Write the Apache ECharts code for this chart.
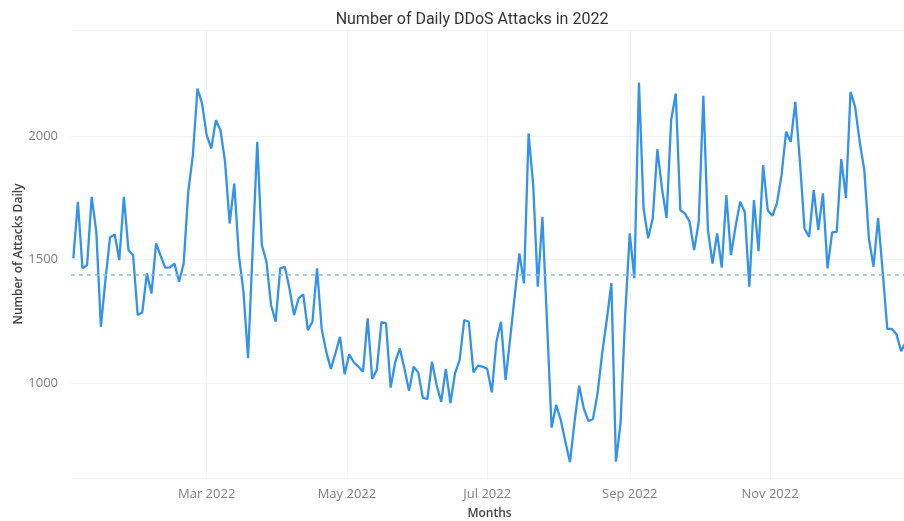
<!DOCTYPE html>
<html>
<head>
<meta charset="utf-8">
<title>Number of Daily DDoS Attacks in 2022</title>
<script src="https://cdn.jsdelivr.net/npm/echarts@6/dist/echarts.min.js"></script>
<style>
	html, body { margin: 0; padding: 0; background: #fff; }
	#ddos_chart { width: 904px; height: 521px; }
</style>
</head>
<body>
<div id="ddos_chart"></div>
<script>
// samples every second day, starting 2 Jan 2022
var firstSampleDate = '2022-01-02';
var sampleStepDays = 2;
var attackCounts = [
	1505, 1734, 1464, 1478, 1754, 1613, 1228, 1420, 1590, 1602,
	1498, 1754, 1538, 1518, 1275, 1286, 1444, 1363, 1565, 1515,
	1467, 1468, 1484, 1410, 1484, 1775, 1923, 2193, 2132, 2004,
	1950, 2065, 2024, 1896, 1646, 1808, 1518, 1370, 1100, 1540,
	1977, 1559, 1491, 1316, 1248, 1464, 1471, 1383, 1275, 1343,
	1359, 1214, 1248, 1464, 1221, 1127, 1057, 1120, 1187, 1035,
	1116, 1084, 1066, 1046, 1262, 1016, 1053, 1246, 1242, 981,
	1084, 1140, 1059, 968, 1066, 1043, 940, 935, 1086, 992,
	924, 1057, 918, 1039, 1093, 1255, 1248, 1043, 1070, 1066,
	1057, 962, 1167, 1248, 1012, 1181, 1356, 1525, 1404, 2011,
	1802, 1390, 1673, 1250, 819, 911, 850, 762, 679, 843,
	989, 897, 846, 854, 958, 1120, 1255, 1404, 681, 837,
	1275, 1606, 1424, 2217, 1707, 1586, 1667, 1947, 1788, 1669,
	2065, 2173, 1700, 1687, 1653, 1538, 1653, 2163, 1619, 1484,
	1606, 1467, 1761, 1518, 1633, 1734, 1693, 1390, 1741, 1534,
	1883, 1700, 1677, 1728, 1842, 2018, 1977, 2139, 1896, 1626,
	1592, 1781, 1619, 1768, 1464, 1610, 1612, 1907, 1750, 2179,
	2119, 1977, 1862, 1586, 1471, 1669, 1450, 1219, 1219, 1197,
	1129, 1165
];
var averageAttacks = 1437;

var monthTicks = ['2022-03-01', '2022-05-01', '2022-07-01', '2022-09-01', '2022-11-01'];
var monthLabels = ['Mar 2022', 'May 2022', 'Jul 2022', 'Sep 2022', 'Nov 2022'];

function fmt(d) {
	var m = d.getUTCMonth() + 1, day = d.getUTCDate();
	return d.getUTCFullYear() + '-' + (m < 10 ? '0' : '') + m + '-' + (day < 10 ? '0' : '') + day;
}

function set_ddos_chart() {
	var ddos_chart = echarts.init(document.getElementById('ddos_chart'));

	// every day of 2022 on the category axis
	var allDays = [];
	var d = new Date(Date.UTC(2022, 0, 1));
	while (d.getUTCFullYear() === 2022) {
		allDays.push(fmt(d));
		d = new Date(d.getTime() + 86400000);
	}

	var lineData = new Array(allDays.length);
	for (var i = 0; i < allDays.length; i++) lineData[i] = null;
	var start = allDays.indexOf(firstSampleDate);
	for (var j = 0; j < attackCounts.length; j++) {
		var idx = start + j * sampleStepDays;
		if (idx < allDays.length) lineData[idx] = attackCounts[j];
	}

	var isMonthTick = function (index, value) {
		return monthTicks.indexOf(value) >= 0;
	};

	var option = {
		animation: false,
		textStyle: { fontFamily: 'Open Sans' },
		title: {
			text: 'Number of Daily DDoS Attacks in 2022',
			left: 467,
			top: 7,
			textAlign: 'center',
			textStyle: { fontFamily: 'Roboto', fontSize: 16, fontWeight: 'normal', color: '#333' }
		},
		grid: { left: 71, right: -4, top: 30, bottom: 43, containLabel: false, outerBoundsMode: 'none' },
		xAxis: {
			type: 'category',
			boundaryGap: false,
			data: allDays,
			name: 'Months',
			nameLocation: 'middle',
			nameGap: 30,
			nameMoveOverlap: false,
			nameTextStyle: { fontSize: 12, fontWeight: 600, color: '#444' },
			axisLine: { show: false },
			axisTick: { show: false },
			axisLabel: {
				interval: isMonthTick,
				margin: 10,
				fontSize: 13,
				color: '#808080',
				formatter: function (value) {
					var k = monthTicks.indexOf(value);
					return k >= 0 ? monthLabels[k] : '';
				}
			},
			splitLine: { show: true, interval: isMonthTick, lineStyle: { color: '#f3f3f3', width: 1 } }
		},
		yAxis: {
			type: 'value',
			min: 615,
			max: 2430,
			splitNumber: 4,
			name: 'Number of Attacks Daily',
			nameLocation: 'middle',
			nameGap: 46,
			nameMoveOverlap: false,
			nameTextStyle: { fontSize: 12, fontWeight: 600, color: '#444' },
			axisLine: { show: false },
			axisTick: { show: false },
			axisLabel: {
				showMinLabel: false,
				showMaxLabel: false,
				margin: 13,
				fontSize: 13,
				color: '#808080',
				formatter: function (v) { return String(v); }
			},
			splitLine: { lineStyle: { color: '#f3f3f3', width: 1 } }
		},
		series: [{
			name: 'Attacks',
			type: 'line',
			data: lineData,
			connectNulls: true,
			showSymbol: false,
			lineStyle: { color: '#3393ec', width: 2.3 },
			itemStyle: { color: '#3393ec' },
			markLine: {
				silent: true,
				symbol: 'none',
				label: { show: false },
				lineStyle: { color: '#8cbcee', type: [4, 4], width: 1.5 },
				data: [{ yAxis: averageAttacks }]
			}
		}]
	};
	ddos_chart.setOption(option);
}

set_ddos_chart();
</script>
</body>
</html>
